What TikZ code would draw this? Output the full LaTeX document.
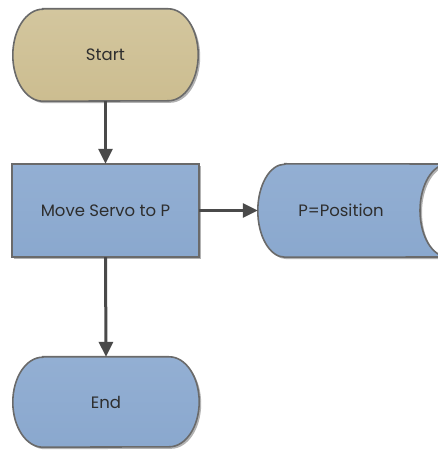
\documentclass[tikz,border=0pt]{standalone}
\usepackage{fontspec}
\setmainfont{Poppins}
\usetikzlibrary{arrows.meta,shadows}
\pgfdeclarelayer{background}
\pgfsetlayers{background,main}
\definecolor{tanfill}{HTML}{CCBD90}
\definecolor{tantop}{HTML}{D3C69E}
\definecolor{bluefill}{HTML}{8AA8CE}
\definecolor{bluetop}{HTML}{93AFD3}
\definecolor{edgegrey}{HTML}{6A6A6A}
\definecolor{linkgrey}{HTML}{4A4A4A}
\definecolor{inkgrey}{HTML}{2E2E2E}
\tikzset{
  txt/.style={inner sep=0pt, text=inkgrey, font=\fontsize{16.5}{19}\selectfont},
  outline/.style={draw=edgegrey, line width=1.6pt,
    drop shadow={shadow xshift=2pt, shadow yshift=-2pt, opacity=0.3, fill=black}},
  tanshape/.style={outline, top color=tantop, bottom color=tanfill},
  blueshape/.style={outline, top color=bluetop, bottom color=bluefill},
  link/.style={draw=linkgrey, line width=3pt, -{Triangle[length=15pt,width=14pt]}}
}
\begin{document}
\begin{tikzpicture}[x=1pt,y=1pt]
\useasboundingbox (0,0) rectangle (438,450);
\clip (0,0) rectangle (438,450);

% text nodes sized to their outlines
\node[txt, minimum width=185pt, minimum height=92pt] (start) at (105.5,395) {Start};
\node[txt, minimum width=187pt, minimum height=93pt] (move) at (105.5,239.5) {Move Servo to P};
\node[txt, minimum width=166pt, minimum height=93pt] (pos) at (341,239.5) {P=Position};
\node[txt, minimum width=186pt, minimum height=90pt] (end) at (106,48) {End};

\begin{pgfonlayer}{background}
  % terminator: Start
  \path[tanshape] ([xshift=30pt]start.north west) -- ([xshift=-30pt]start.north east)
    arc[start angle=90,end angle=-90,x radius=30pt,y radius=46pt]
    -- ([xshift=30pt]start.south west)
    arc[start angle=-90,end angle=-270,x radius=30pt,y radius=46pt] -- cycle;
  % process box
  \path[blueshape] (move.south west) rectangle (move.north east);
  % stored data
  \path[blueshape] ([xshift=27pt]pos.north west) -- (448,286)
    arc[start angle=90,end angle=270,x radius=28pt,y radius=46.5pt]
    -- ([xshift=27pt]pos.south west)
    arc[start angle=270,end angle=90,x radius=27pt,y radius=46.5pt] -- cycle;
  % terminator: End
  \path[blueshape] ([xshift=30pt]end.north west) -- ([xshift=-30pt]end.north east)
    arc[start angle=90,end angle=-90,x radius=30pt,y radius=45pt]
    -- ([xshift=30pt]end.south west)
    arc[start angle=-90,end angle=-270,x radius=30pt,y radius=45pt] -- cycle;
\end{pgfonlayer}

% connectors
\draw[link] (start.south) -- (move.north);
\draw[link] (move.east) -- (pos.west);
\draw[link] (move.south) -- (end.north);
\end{tikzpicture}
\end{document}
